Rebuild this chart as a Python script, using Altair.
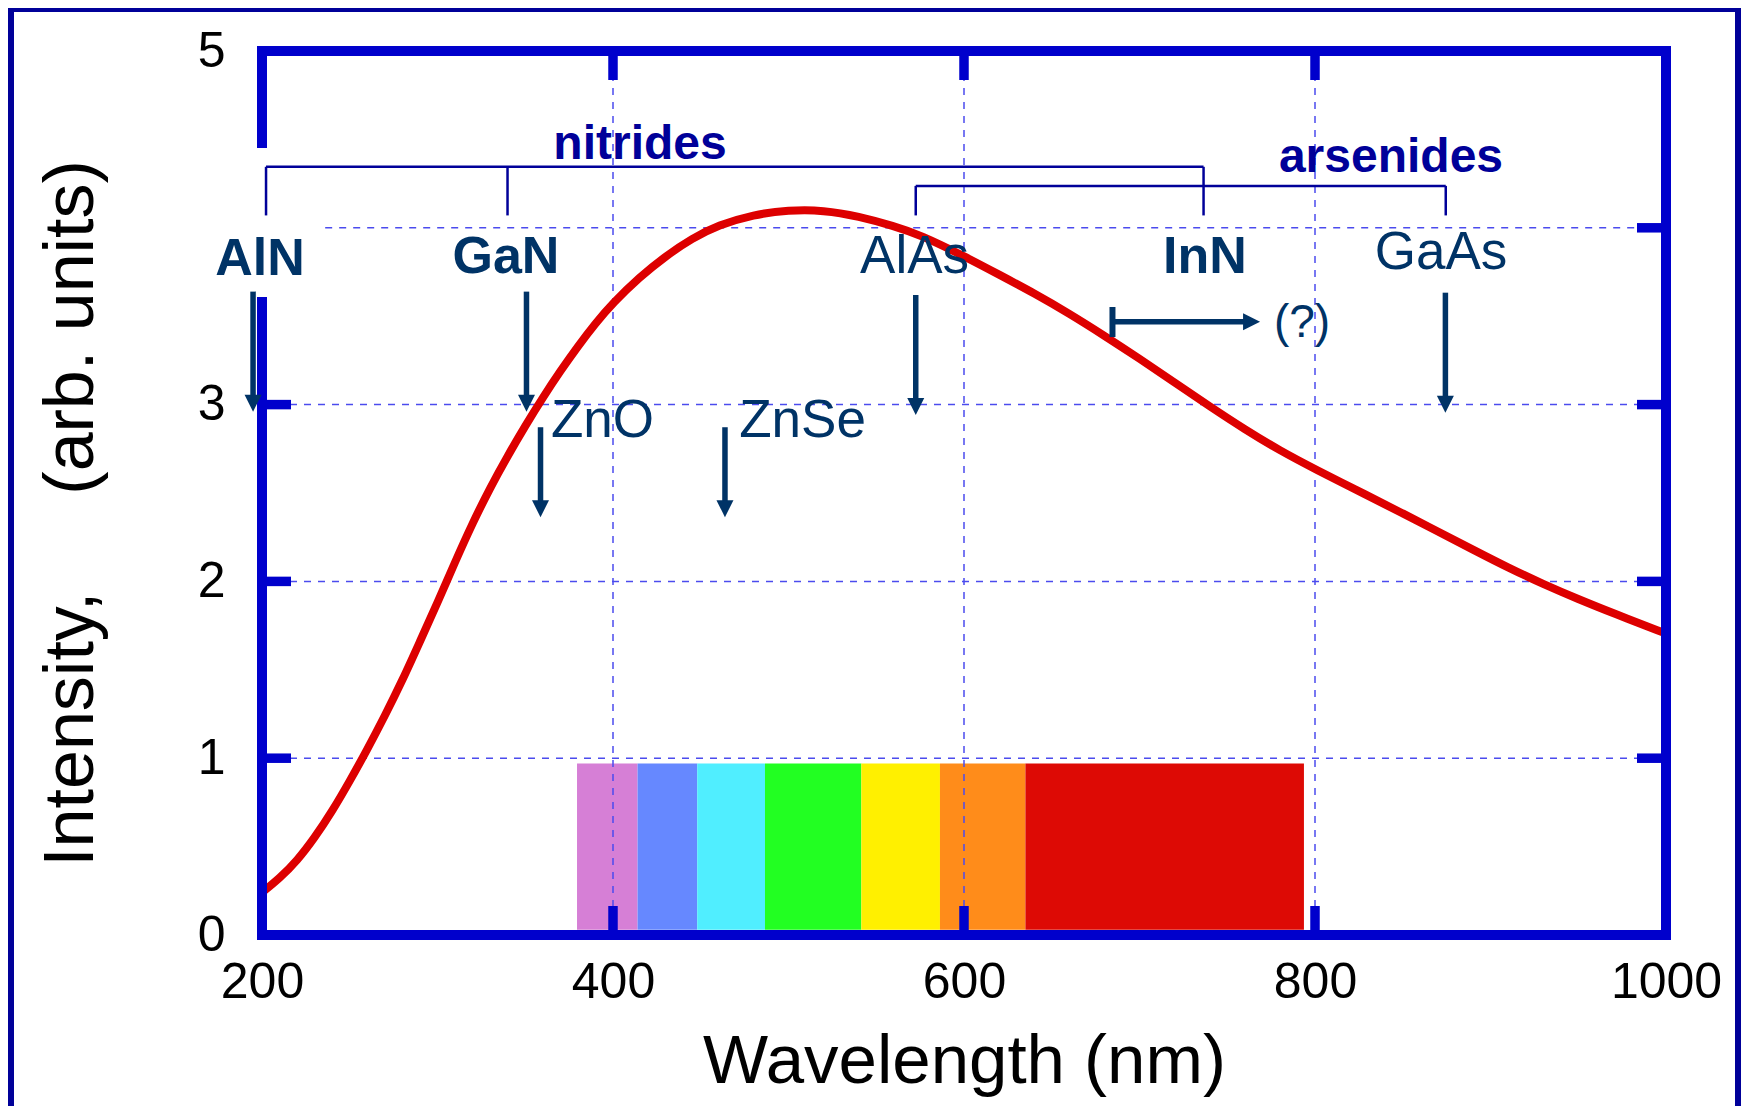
import altair as alt
import pandas as pd

# ---------------- data ----------------
wavelength = [200, 210, 220, 230, 240, 250, 260, 270, 280, 290, 300, 310, 320, 330, 340,
              350, 360, 370, 380, 390, 400, 415, 430, 445, 460, 480, 500, 520, 540, 560,
              575, 600, 620, 640, 660, 680, 700, 720, 740, 760, 780, 800, 830, 850, 870,
              890, 910, 930, 950, 970, 1000]
intensity = [0.24, 0.32, 0.42, 0.55, 0.70, 0.87, 1.05, 1.24, 1.44, 1.66, 1.88, 2.11, 2.33, 2.53, 2.71,
             2.88, 3.04, 3.19, 3.33, 3.46, 3.575, 3.72, 3.84, 3.94, 4.015, 4.075, 4.10, 4.10, 4.065, 4.01,
             3.96, 3.84, 3.735, 3.63, 3.515, 3.39, 3.26, 3.125, 2.99, 2.86, 2.74, 2.635, 2.485, 2.385, 2.282,
             2.18, 2.078, 1.985, 1.90, 1.82, 1.705]

# visible spectrum bands
band_start = [379.5, 414, 448, 486.6, 541.5, 586.3, 635]
band_end = [414, 448, 486.6, 541.5, 586.3, 635, 793.7]
band_color = ["#D67FD6", "#6688FF", "#50EEFF", "#22FF22", "#FFF000", "#FF8C1A", "#DD0A05"]
band_low, band_high = 0.03, 0.97

x_ticks = [200, 400, 600, 800, 1000]
y_ticks = [0, 1, 2, 3, 5]
x_inner_ticks = [400, 600, 800]
y_inner_ticks_left = [1, 2, 3]
y_inner_ticks_right = [1, 2, 3, 4]
grid_y = [1, 2, 3, 4]
grid_y_start = [200, 200, 200, 236]
left_axis_from = [5, 3.58]
left_axis_to = [4.48, 0]

# material labels
label_text = ["AlN", "GaN", "InN", "AlAs", "GaAs", "ZnO", "ZnSe", "(?)"]
label_x = [198.9, 339.0, 737.3, 571.8, 871.8, 394.0, 508.0, 792.6]
label_y = [3.733, 3.742, 3.746, 3.746, 3.765, 2.818, 2.818, 3.380]
label_bold = [True, True, True, False, False, False, False, False]
label_size = [52, 52, 52, 53, 53, 53, 53, 46]

group_text = ["nitrides", "arsenides"]
group_x = [415.4, 843.3]
group_y = [4.389, 4.317]

# brackets
bracket_h_x0 = [202.3, 572.5]
bracket_h_x1 = [736.5, 874.5]
bracket_h_y = [4.345, 4.237]
bracket_v_x = [202.3, 339.9, 736.5, 572.5, 874.5]
bracket_v_top = [4.345, 4.345, 4.345, 4.237, 4.237]
bracket_v_bottom = [4.07, 4.07, 4.07, 4.07, 4.07]

# down arrows
arrow_x = [194.9, 350.7, 358.7, 463.8, 572.5, 874.3]
arrow_top = [3.639, 3.639, 2.872, 2.872, 3.620, 3.633]
arrow_tip = [2.960, 2.960, 2.363, 2.363, 2.941, 2.954]

# InN range arrow
range_start, range_tip, range_y = 684.6, 768.7, 3.469
range_bar_top, range_bar_bottom = 3.552, 3.382

# ---------------- styling ----------------
W, H = 1404, 884
FONT = "Liberation Sans"
NAVY = "#003366"
DARK = "#000099"
FRAME = "#0000CC"
GRID = "#4b4bee"

xs = alt.Scale(domain=[200, 1000], nice=False, zero=False)
ys = alt.Scale(domain=[0, 5], nice=False, zero=False)

y_title = "Intensity,\u00a0\u00a0\u00a0\u00a0\u00a0(arb. units)"

xaxis = alt.Axis(values=x_ticks, format="d", title="Wavelength (nm)", domain=False, ticks=False, tickSize=0,
                 grid=False, labelFont=FONT, labelFontSize=50, labelColor="black",
                 labelPadding=62, labelBaseline="alphabetic", labelFlush=False, labelOverlap=False,
                 titleFont=FONT, titleFontSize=69, titleFontWeight="normal", titleColor="black",
                 titleY=147, titleBaseline="alphabetic")
yaxis = alt.Axis(values=y_ticks, format="d", title=y_title, domain=False, ticks=False, tickSize=0,
                 grid=False, labelFont=FONT, labelFontSize=50, labelColor="black",
                 labelPadding=37, labelFlush=False, labelOverlap=False,
                 titleFont=FONT, titleFontSize=70, titleFontWeight="normal", titleColor="black",
                 titleX=-170, titleY=462, titleAngle=270, titleAlign="center",
                 titleBaseline="alphabetic")


def X(f):
    return alt.X(f, type="quantitative", scale=xs, axis=xaxis)


def Y(f):
    return alt.Y(f, type="quantitative", scale=ys, axis=yaxis)


one = pd.DataFrame({"k": [0]})

# spectrum bands
bands = alt.Chart(pd.DataFrame({"x0": band_start, "x1": band_end, "c": band_color,
                                "y0": band_low, "y1": band_high})).mark_rect().encode(
    x=X("x0"), x2="x1", y=Y("y0"), y2="y1", color=alt.Color("c:N", scale=None))

# gridlines
grid_v = alt.Chart(pd.DataFrame({"x": x_inner_ticks, "y0": 0, "y1": 5})).mark_rule(
    color=GRID, strokeWidth=1.5, strokeDash=[7, 7]).encode(x=X("x"), y=Y("y0"), y2="y1")
grid_h = alt.Chart(pd.DataFrame({"y": grid_y, "x0": grid_y_start, "x1": 1000})).mark_rule(
    color=GRID, strokeWidth=1.5, strokeDash=[7, 7]).encode(y=Y("y"), x=X("x0"), x2="x1")

# curve
curve = alt.Chart(pd.DataFrame({"w": wavelength, "i": intensity})).mark_line(
    color="#DD0000", strokeWidth=8, interpolate="basis").encode(x=X("w"), y=Y("i"))

# brackets
br_h = alt.Chart(pd.DataFrame({"x0": bracket_h_x0, "x1": bracket_h_x1, "y": bracket_h_y})).mark_rule(
    color=DARK, strokeWidth=2.5).encode(x=X("x0"), x2="x1", y=Y("y"))
br_v = alt.Chart(pd.DataFrame({"x": bracket_v_x, "y0": bracket_v_top, "y1": bracket_v_bottom})).mark_rule(
    color=DARK, strokeWidth=2.5).encode(x=X("x"), y=Y("y0"), y2="y1")

# frame
frame_h = alt.Chart(pd.DataFrame({"y": [0, 5], "x0": 200, "x1": 1000})).mark_rule(
    color=FRAME, strokeWidth=10, strokeCap="square").encode(y=Y("y"), x=X("x0"), x2="x1")
frame_r = alt.Chart(pd.DataFrame({"x": [1000], "y0": 0, "y1": 5})).mark_rule(
    color=FRAME, strokeWidth=10, strokeCap="square").encode(x=X("x"), y=Y("y0"), y2="y1")
frame_l = alt.Chart(pd.DataFrame({"x": 200, "y0": left_axis_from, "y1": left_axis_to})).mark_rule(
    color=FRAME, strokeWidth=10, strokeCap="square").encode(x=X("x"), y=Y("y0"), y2="y1")

TL = 29
tick_b = alt.Chart(pd.DataFrame({"x": x_inner_ticks})).mark_rule(color=FRAME, strokeWidth=9.5).encode(
    x=X("x"), y=alt.value(H), y2=alt.value(H - TL))
tick_t = alt.Chart(pd.DataFrame({"x": x_inner_ticks})).mark_rule(color=FRAME, strokeWidth=9.5).encode(
    x=X("x"), y=alt.value(0), y2=alt.value(TL))
tick_l = alt.Chart(pd.DataFrame({"y": y_inner_ticks_left})).mark_rule(color=FRAME, strokeWidth=9.5).encode(
    y=Y("y"), x=alt.value(0), x2=alt.value(TL))
tick_r = alt.Chart(pd.DataFrame({"y": y_inner_ticks_right})).mark_rule(color=FRAME, strokeWidth=9.5).encode(
    y=Y("y"), x=alt.value(W), x2=alt.value(W - TL))

# labels
lab = pd.DataFrame({"t": label_text, "x": label_x, "y": label_y, "b": label_bold, "s": label_size})
lab_bold = alt.Chart(lab[lab.b]).mark_text(font=FONT, fontWeight="bold", color=NAVY,
                                          align="center", baseline="alphabetic").encode(
    x=X("x"), y=Y("y"), text="t:N", size=alt.Size("s:Q", scale=None, legend=None))
lab_reg = alt.Chart(lab[~lab.b]).mark_text(font=FONT, fontWeight="normal", color=NAVY,
                                          align="center", baseline="alphabetic").encode(
    x=X("x"), y=Y("y"), text="t:N", size=alt.Size("s:Q", scale=None, legend=None))
groups = alt.Chart(pd.DataFrame({"t": group_text, "x": group_x, "y": group_y})).mark_text(
    font=FONT, fontWeight="bold", fontSize=48, color=DARK, align="center", baseline="alphabetic").encode(
    x=X("x"), y=Y("y"), text="t:N")

# arrows
adf = pd.DataFrame({"x": arrow_x, "top": arrow_top, "tip": arrow_tip})
adf["shaft_end"] = adf["tip"] + 10 / (H / 5)
arrow_shaft = alt.Chart(adf).mark_rule(color=NAVY, strokeWidth=5.5).encode(
    x=X("x"), y=Y("top"), y2="shaft_end")
arrow_head = alt.Chart(adf).mark_point(shape="M -1 -2 L 1 -2 L 0 0 Z", size=289, filled=True,
                                       fill=NAVY, opacity=1, strokeWidth=0).encode(
    x=X("x"), y=Y("tip"))

rdf = pd.DataFrame({"x0": [range_start], "x1": [range_tip], "y": [range_y],
                    "bt": [range_bar_top], "bb": [range_bar_bottom]})
rdf["shaft_end"] = rdf["x1"] - 10 / (W / 800)
range_shaft = alt.Chart(rdf).mark_rule(color=NAVY, strokeWidth=5.5).encode(
    x=X("x0"), x2="shaft_end", y=Y("y"))
range_bar = alt.Chart(rdf).mark_rule(color=NAVY, strokeWidth=6).encode(
    x=X("x0"), y=Y("bt"), y2="bb")
range_head = alt.Chart(rdf).mark_point(shape="M -2 -1 L 0 0 L -2 1 Z", size=289, filled=True,
                                       fill=NAVY, opacity=1, strokeWidth=0).encode(
    x=X("x1"), y=Y("y"))

# outer slide border
border_l = alt.Chart(one).mark_rule(color=DARK, strokeWidth=6).encode(
    x=alt.value(-251), y=alt.value(-43), y2=alt.value(H + 171))
border_r = alt.Chart(one).mark_rule(color=DARK, strokeWidth=6).encode(
    x=alt.value(W + 72), y=alt.value(-43), y2=alt.value(H + 171))
border_t = alt.Chart(one).mark_rule(color=DARK, strokeWidth=4).encode(
    y=alt.value(-41), x=alt.value(-254), x2=alt.value(W + 75))

chart = alt.layer(
    bands, grid_v, grid_h, curve, br_h, br_v,
    frame_h, frame_r, frame_l, tick_b, tick_t, tick_l, tick_r,
    lab_bold, lab_reg, groups,
    arrow_shaft, arrow_head, range_shaft, range_bar, range_head,
    border_l, border_r, border_t,
).properties(
    width=W, height=H,
    padding={"left": 254, "top": 43, "right": 75, "bottom": 171},
    autosize=alt.AutoSizeParams(type="none"),
    background="white",
).configure_view(stroke=None)

chart.save("out.html", embed_options={"renderer": "svg", "actions": False})
